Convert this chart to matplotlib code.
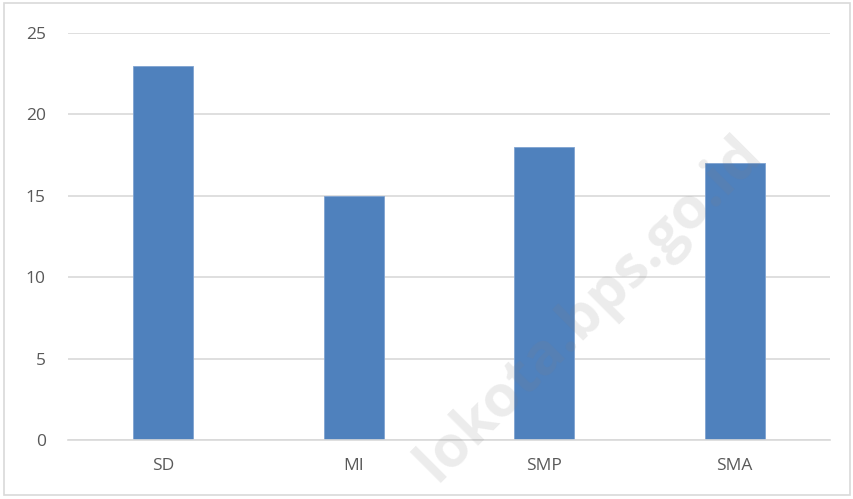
import matplotlib.pyplot as plt
from matplotlib.patches import Rectangle

categories = ["SD", "MI", "SMP", "SMA"]
values = [23, 15, 18, 17]
yticks = [0, 5, 10, 15, 20, 25]

plt.rcParams['font.family'] = ['Open Sans', 'DejaVu Sans']

fig = plt.figure(figsize=(8.54, 4.99), dpi=100)
ax = fig.add_axes([0.0796, 0.118, 0.892, 0.816])

x = list(range(len(categories)))
ax.bar(x, values, width=0.315, color="#4F81BD", edgecolor="#7FA3D1", linewidth=0.6, zorder=2)

ax.set_xlim(-0.5, len(categories) - 0.5)
ax.set_ylim(0, 25)
ax.set_yticks(yticks)
ax.set_xticks(x)
ax.set_xticklabels(categories)
ax.yaxis.grid(True, color="#D9D9D9", linewidth=1.2, zorder=0)
ax.set_axisbelow(True)
for side in ["top", "right", "left"]:
    ax.spines[side].set_visible(False)
ax.spines["bottom"].set_color("#D9D9D9")
ax.spines["bottom"].set_linewidth(1.2)
ax.tick_params(length=0, labelsize=12.5, labelcolor="#595959")
ax.tick_params(axis="y", pad=16)
ax.tick_params(axis="x", pad=13)

# watermark
fig.text(0.69, 0.38, "lokota.bps.go.id", rotation=45, fontsize=42, fontweight="bold",
         color="#808080", alpha=0.15, ha="center", va="center", zorder=5)

# chart frame
fig.patches.append(Rectangle((0.005, 0.008), 0.99, 0.985, transform=fig.transFigure,
                             fill=False, edgecolor="#D9D9D9", linewidth=1.2))

fig.savefig("out.png", dpi=100)
